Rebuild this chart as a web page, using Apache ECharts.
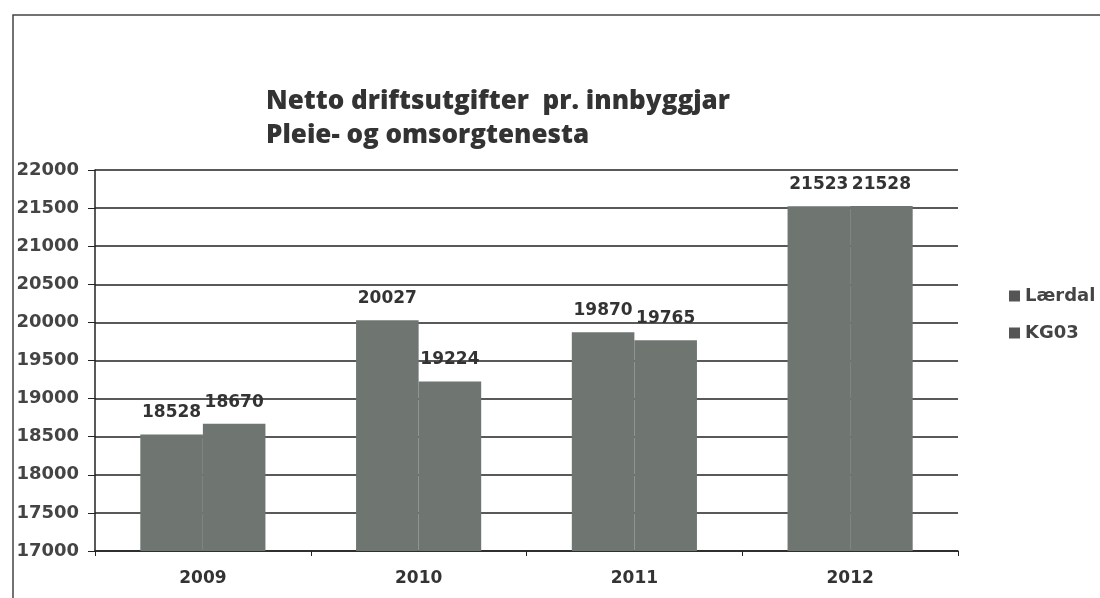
<!DOCTYPE html>
<html><head><meta charset="utf-8">
<script src="https://cdn.jsdelivr.net/npm/echarts@6/dist/echarts.min.js"></script>
<style>html,body{margin:0;padding:0;background:#fff}#c{width:1100px;height:598px}</style>
</head><body><div id="c"></div>
<script>
const categories = ['2009', '2010', '2011', '2012'];
const laerdal = [18528, 20027, 19870, 21523];
const kg03 = [18670, 19224, 19765, 21528];
const seriesNames = ['Lærdal', 'KG03'];
const titleLines = ['Netto driftsutgifter  pr. innbyggjar', 'Pleie- og omsorgtenesta'];

const FONT = '"DejaVu Sans", sans-serif';
const TFONT = '"Open Sans", sans-serif';
const BAR = '#6f7671';
const chart = echarts.init(document.getElementById('c'), null, {renderer: 'canvas'});
const label = {show: true, position: 'top', distance: 13, color: '#333', fontFamily: FONT, fontWeight: 'bold', fontSize: 17};
chart.setOption({
  animation: false,
  backgroundColor: '#fff',
  title: {
    text: titleLines.join('\n'), left: 261, top: 80,
    textStyle: {fontFamily: TFONT, fontWeight: 800, fontSize: 26, color: '#333', lineHeight: 34}
  },
  graphic: [
    {type: 'polyline', shape: {points: [[13, 598], [13, 15], [1100, 15]]}, style: {stroke: '#444', lineWidth: 1.5, fill: null}}
  ],
  legend: {
    orient: 'vertical', left: 1004, top: 282, itemGap: 19, icon: 'rect', itemWidth: 11, itemHeight: 11,
    textStyle: {fontFamily: FONT, fontWeight: 'bold', fontSize: 18, color: '#444'},
    data: seriesNames.map(n => ({name: n, itemStyle: {color: '#555'}}))
  },
  grid: {left: 95, right: 142, top: 170, bottom: 47, containLabel: false},
  xAxis: {
    type: 'category', data: categories,
    axisLine: {lineStyle: {color: '#222', width: 1.5}},
    axisTick: {show: true, length: 5, lineStyle: {color: '#222'}},
    axisLabel: {fontFamily: FONT, fontWeight: 'bold', fontSize: 17, color: '#333', margin: 19}
  },
  yAxis: {
    type: 'value', min: 17000, max: 22000, interval: 500,
    axisLine: {show: true, lineStyle: {color: '#222', width: 1.5}},
    axisTick: {show: true, length: 7, lineStyle: {color: '#222'}},
    axisLabel: {fontFamily: FONT, fontWeight: 'bold', fontSize: 18, color: '#444', margin: 16, formatter: v => String(v)},
    splitLine: {lineStyle: {color: '#222', width: 1.5}}
  },
  series: [
    {name: seriesNames[0], type: 'bar', data: laerdal, barWidth: '29%', barGap: '0%', itemStyle: {color: BAR}, label},
    {name: seriesNames[1], type: 'bar', data: kg03, barWidth: '29%', barGap: '0%', itemStyle: {color: BAR}, label}
  ]
});
</script></body></html>
